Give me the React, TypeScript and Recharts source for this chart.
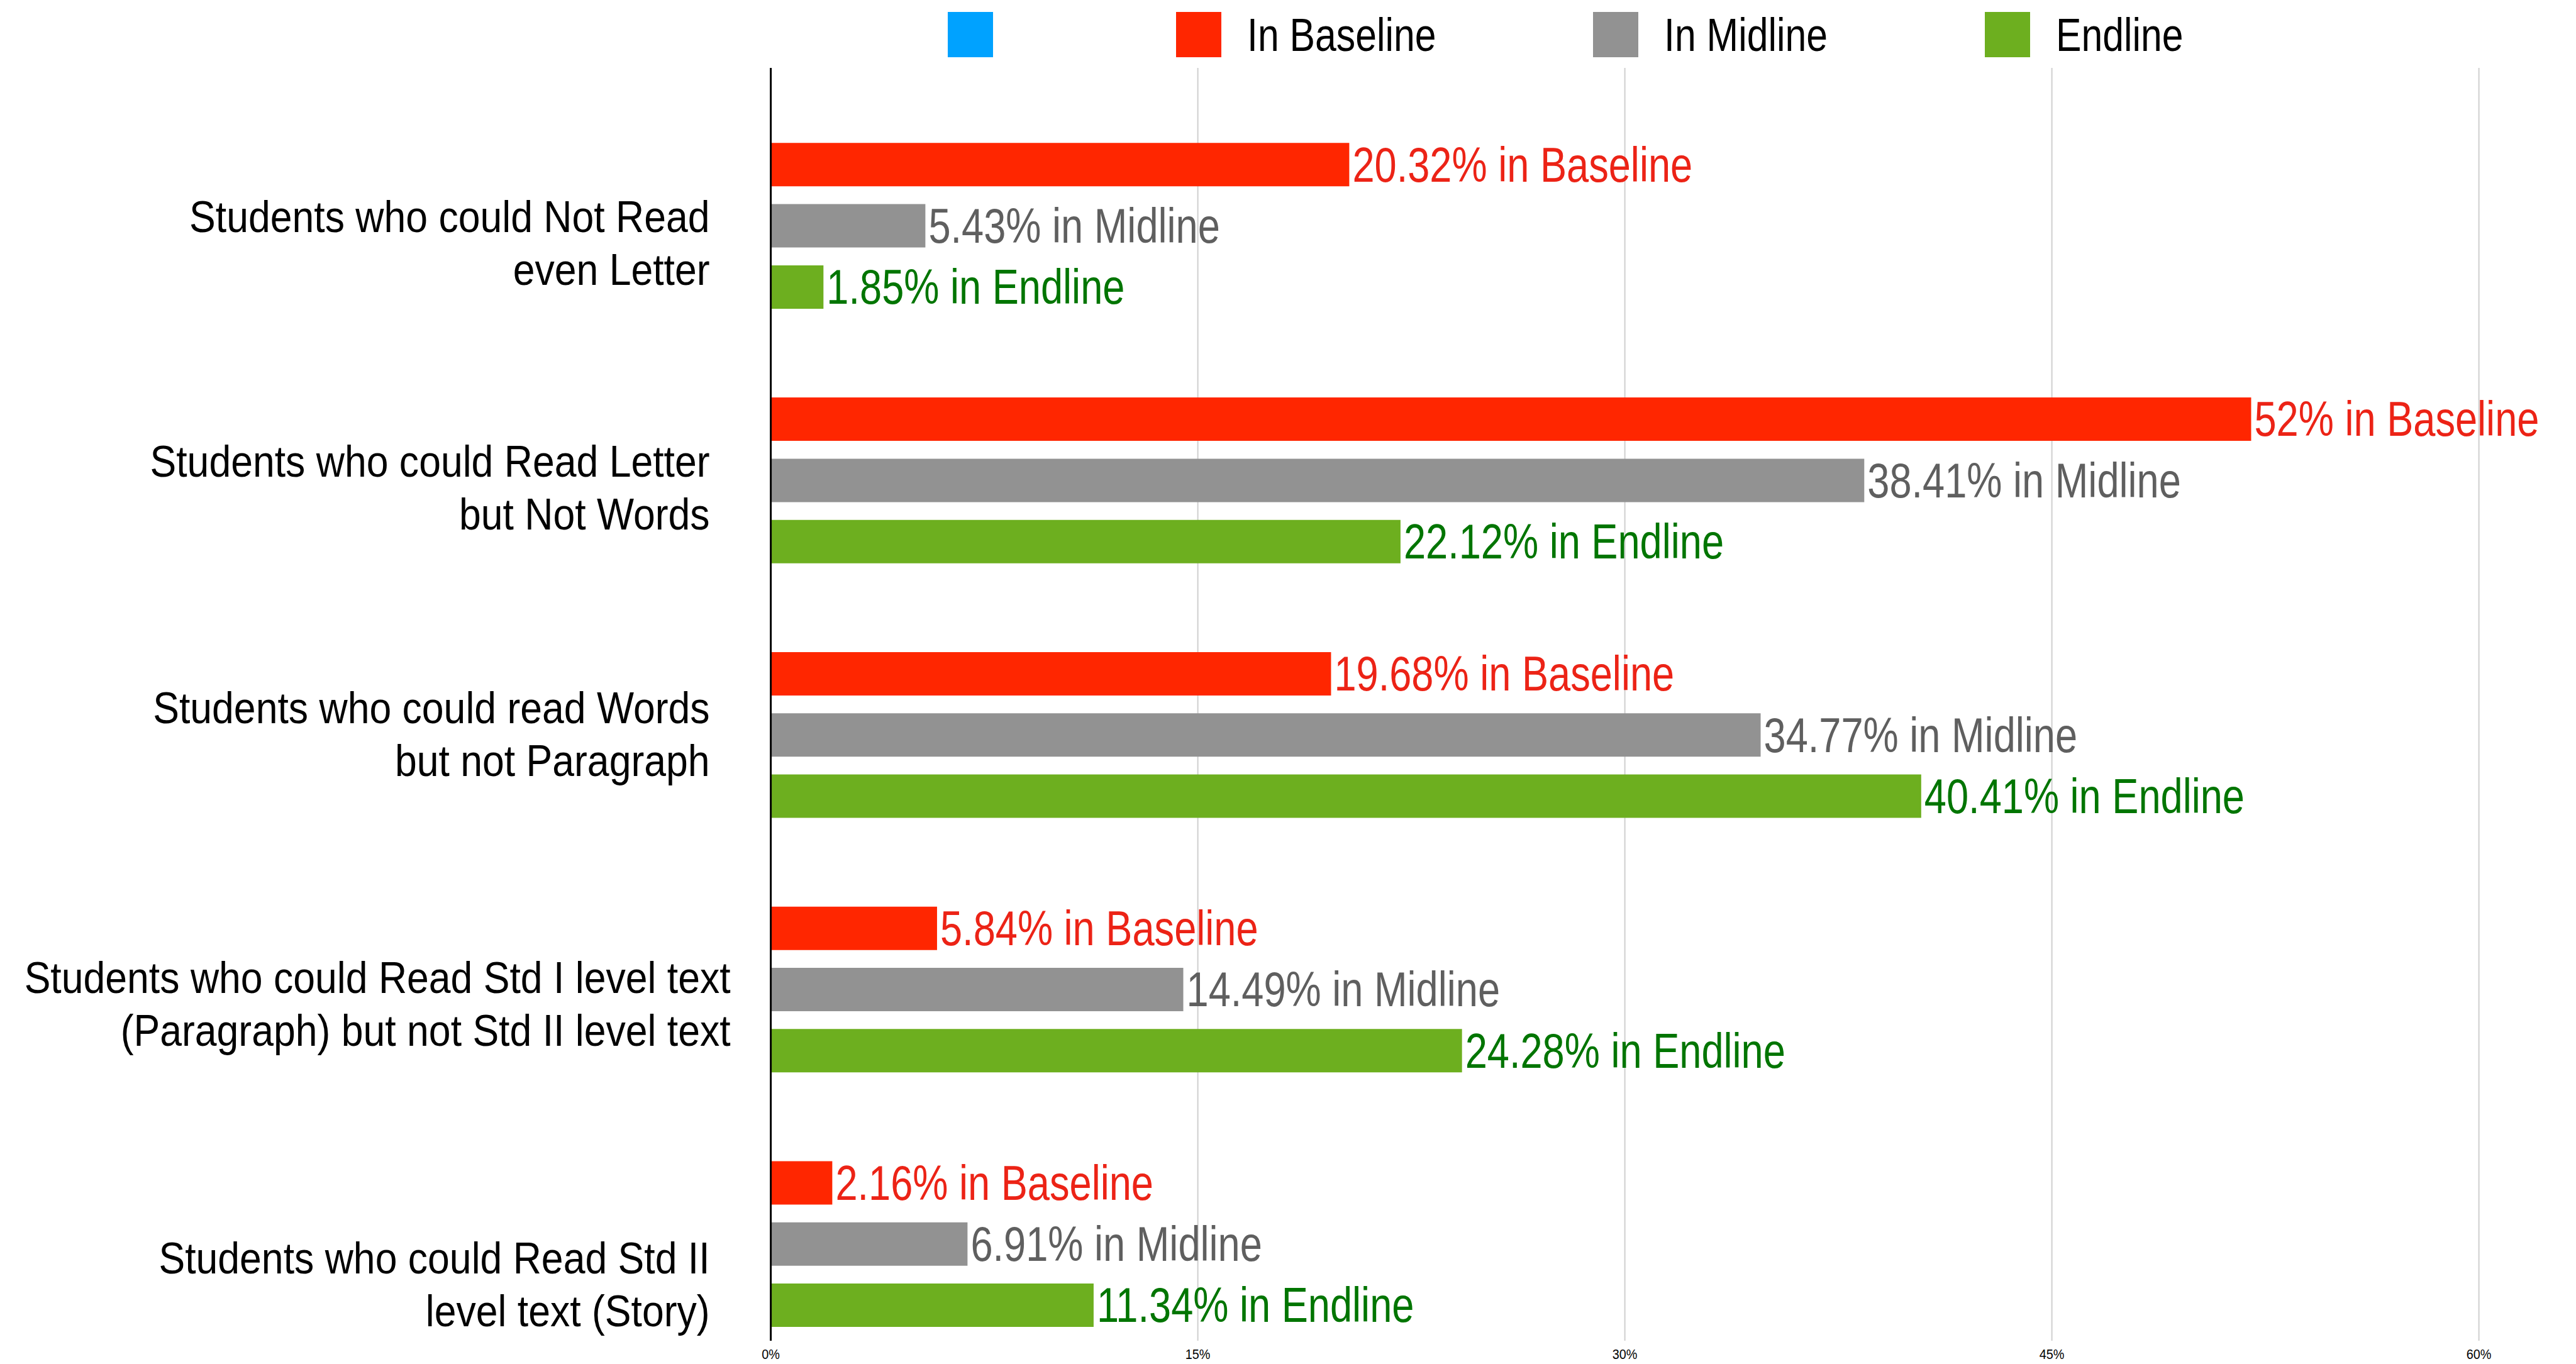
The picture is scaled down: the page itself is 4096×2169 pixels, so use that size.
import React from 'react';
import { BarChart, Bar, XAxis, YAxis, CartesianGrid, Legend, LabelList } from 'recharts';

// categories (line breaks as in the original labels)
const CATEGORIES = [
  'Students who could Not Read\neven Letter',
  'Students who could Read Letter\nbut Not Words',
  'Students who could read Words\nbut not Paragraph',
  'Students who could Read Std I level text\n(Paragraph) but not Std II level text',
  'Students who could Read Std II\nlevel text (Story)',
];

// % of students
const BLANK = [0, 0, 0, 0, 0];
const BASELINE = [20.32, 52, 19.68, 5.84, 2.16];
const MIDLINE = [5.43, 38.41, 34.77, 14.49, 6.91];
const ENDLINE = [1.85, 22.12, 40.41, 24.28, 11.34];

const X_TICKS = [0, 15, 30, 45, 60];

// the original uses a narrow Arial; no narrow face here, so squeeze Liberation Sans
const FONT = "'Liberation Sans', Arial, sans-serif";

const SERIES = [
  { key: 'blank', name: '', color: '#00a2ff', labelColor: '', suffix: '' },
  { key: 'baseline', name: 'In Baseline', color: '#ff2600', labelColor: '#ec2316', suffix: 'in Baseline' },
  { key: 'midline', name: 'In Midline', color: '#929292', labelColor: '#5f5f5f', suffix: 'in Midline' },
  { key: 'endline', name: 'Endline', color: '#6daf1f', labelColor: '#007500', suffix: 'in Endline' },
];

const data = CATEGORIES.map((name, i) => ({
  name,
  blank: BLANK[i],
  baseline: BASELINE[i],
  midline: MIDLINE[i],
  endline: ENDLINE[i],
}));

let ctx: CanvasRenderingContext2D | null = null;
const textWidth = (s: string, size: number) => {
  if (!ctx) ctx = document.createElement('canvas').getContext('2d');
  if (!ctx) return s.length * size * 0.5;
  ctx.font = `${size}px ${FONT}`;
  return ctx.measureText(s).width;
};

// the original puts its category labels a bit below the bar groups, not evenly
const TICK_DY = [76, 61, 48, 72, 113];
const TICK_GAP = [97, 97, 97, 64, 97];
const LINE_H = 84;

const CategoryTick = ({ x, y, payload, index }: any) => {
  const lines = String(payload.value).split('\n');
  const top = y + TICK_DY[index] - ((lines.length - 1) * LINE_H) / 2;
  const tx = x - TICK_GAP[index];
  return (
    <g transform={`translate(${tx},${top}) scale(0.9,1)`}>
      <text x={0} y={0} textAnchor="end" dominantBaseline="central" fill="#000" fontSize={69.5} fontFamily={FONT}>
        {lines.map((line, i) => (
          <tspan key={i} x={0} y={i * LINE_H}>{line}</tspan>
        ))}
      </text>
    </g>
  );
};

const PercentTick = ({ x, y, payload }: any) => (
  <g transform={`translate(${x},${y}) scale(0.87,1)`}>
    <text x={0} y={0} dy="0.71em" textAnchor="middle" fill="#000" fontSize={22.8} fontFamily={FONT}>
      {`${payload.value}%`}
    </text>
  </g>
);

const makeValueLabel = (suffix: string, color: string) => (props: any) => {
  const { x, y, width, height, value } = props;
  const lx = Number(x) + Number(width) + 5;
  const ly = Number(y) + Number(height) / 2;
  return (
    <g transform={`translate(${lx},${ly}) scale(0.813,1)`}>
      <text x={0} y={0} dominantBaseline="central" fill={color} fontSize={77.7} fontFamily={FONT}>
        {`${value}% ${suffix}`}
      </text>
    </g>
  );
};

const LEGEND_FS = 75;
const LEGEND_K = 0.81;

const LegendContent = () => (
  <div style={{ display: 'flex', alignItems: 'center', fontFamily: FONT }}>
    {SERIES.map((s) => (
      <div key={s.key} style={{ display: 'flex', alignItems: 'center', marginRight: 250 }}>
        <div style={{ width: 72, height: 72, background: s.color }} />
        <span
          style={{
            marginLeft: 41,
            width: textWidth(s.name, LEGEND_FS) * LEGEND_K,
            height: 72,
            overflow: 'visible',
            display: 'inline-block',
          }}
        >
          <span
            style={{
              display: 'inline-block',
              fontSize: LEGEND_FS,
              lineHeight: '72px',
              color: '#000',
              whiteSpace: 'nowrap',
              transform: `scaleX(${LEGEND_K})`,
              transformOrigin: 'left center',
            }}
          >
            {s.name}
          </span>
        </span>
      </div>
    ))}
  </div>
);

export default function App() {
  return (
    <div style={{ position: 'fixed', left: 0, top: 0, background: '#fff' }}>
      <BarChart
        width={4096}
        height={2169}
        data={data}
        layout="vertical"
        margin={{ top: 108, right: 154.4, bottom: 0, left: 0 }}
        barSize={69}
        barGap={28.3}
      >
        <CartesianGrid horizontal={false} stroke="#cfcfcf" strokeWidth={2} />
        <XAxis
          type="number"
          domain={[0, 60]}
          ticks={X_TICKS}
          axisLine={false}
          tickLine={false}
          tickSize={0}
          tickMargin={13}
          height={37}
          tick={<PercentTick />}
        />
        <YAxis
          type="category"
          dataKey="name"
          width={1225.6}
          interval={0}
          tickLine={false}
          tickSize={0}
          tickMargin={0}
          axisLine={{ stroke: '#000', strokeWidth: 3 }}
          tick={<CategoryTick />}
        />
        <Legend
          layout="horizontal"
          verticalAlign="middle"
          align="center"
          content={<LegendContent />}
          wrapperStyle={{ top: 19, left: 1506.6, width: 'auto' }}
        />
        {SERIES.map((s) => (
          <Bar key={s.key} dataKey={s.key} name={s.name} fill={s.color} isAnimationActive={false}>
            {s.suffix && (
              <LabelList dataKey={s.key} content={makeValueLabel(s.suffix, s.labelColor)} />
            )}
          </Bar>
        ))}
      </BarChart>
    </div>
  );
}
